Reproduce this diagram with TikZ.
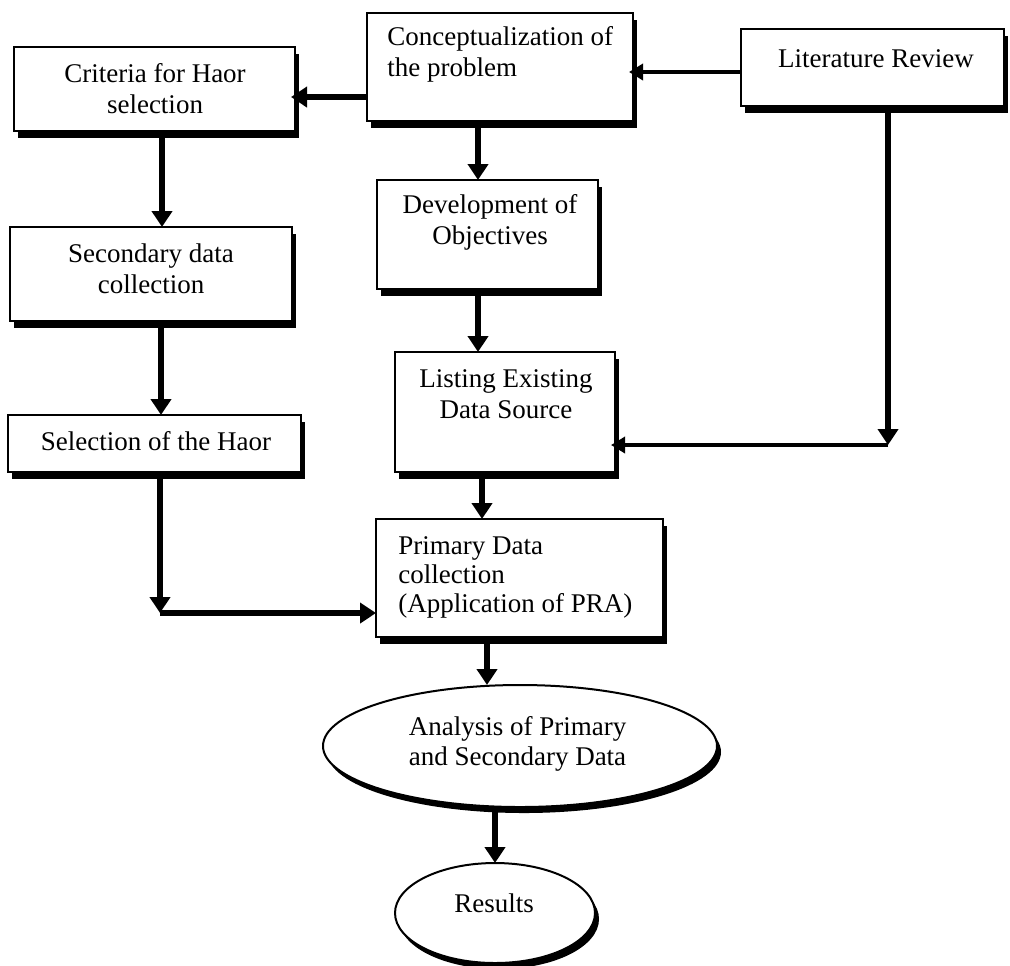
\documentclass[tikz,border=0pt]{standalone}
\usepackage{fontspec}
\setmainfont{Liberation Serif}
\usetikzlibrary{arrows.meta,shapes.geometric,shadows,calc}
\begin{document}
\begin{tikzpicture}[x=0.5pt,y=-0.5pt,
  box/.style={draw, line width=1pt, fill=white, inner sep=0pt, outer sep=0pt,
    general shadow={fill=black, shadow xshift=2pt, shadow yshift=-3.5pt}},
  oval/.style={ellipse, draw, line width=1pt, fill=white, inner sep=0pt, outer sep=0pt,
    general shadow={fill=black, shadow xshift=2pt, shadow yshift=-3pt}},
  txt/.style={font=\fontsize{13.5}{15.5}\selectfont, inner sep=0pt},
  arr/.style={line width=3pt, -{Triangle[width=10pt,length=8pt]}},
  thinarr/.style={line width=2pt, -{Triangle[width=8pt,length=7pt]}}]
\useasboundingbox (0,0) rectangle (1010,965);
% boxes
\node[box, minimum width=133pt, minimum height=54pt] (conc) at (500,67) {};
\node[box, minimum width=131.5pt, minimum height=38.5pt] (lit) at (872.5,67.5) {};
\node[box, minimum width=140.5pt, minimum height=42pt] (crit) at (154.5,89) {};
\node[box, minimum width=141pt, minimum height=47pt] (sec) at (151,274) {};
\node[box, minimum width=146.5pt, minimum height=28.5pt] (sel) at (154.5,443.5) {};
\node[box, minimum width=110.5pt, minimum height=54.5pt] (dev) at (487.5,234.5) {};
\node[box, minimum width=110pt, minimum height=60pt] (list) at (505,412) {};
\node[box, minimum width=143.5pt, minimum height=59pt] (prim) at (519.5,578) {};
\node[oval, minimum width=197pt, minimum height=61pt] (ana) at (520,746) {};
\node[oval, minimum width=100pt, minimum height=50pt] (res) at (495,913) {};
% texts
\node[txt, anchor=north west, align=left] (conc-t) at (387,26.5) {Conceptualization of\\the problem};
\node[txt, anchor=base] (lit-t) at (876,67) {Literature Review};
\node[txt, anchor=north, align=center] (crit-t) at (155,63.5) {Criteria for Haor\\selection};
\node[txt, anchor=north, align=center] (sec-t) at (151,243.5) {Secondary data\\collection};
\node[txt, anchor=base] (sel-t) at (156,450) {Selection of the Haor};
\node[txt, anchor=north, align=center] (dev-t) at (490,194.5) {Development of\\Objectives};
\node[txt, anchor=north, align=center] (list-t) at (506,369.5) {Listing Existing\\Data Source};
\node[txt, font=\fontsize{13.5}{14.5}\selectfont, anchor=north west, align=left] (prim-t) at (398,536.5) {Primary Data\\collection\\(Application of PRA)};
\node[txt, font=\fontsize{13.5}{15}\selectfont, anchor=north, align=center] (ana-t) at (517.5,716.5) {Analysis of Primary\\and Secondary Data};
\node[txt, anchor=base] (res-t) at (494,912) {Results};
% junctions
\coordinate (j1) at (160,613);
\coordinate (j2) at (888,445);
% connectors
\draw[thinarr, shorten >=-2pt] ($(lit.west)+(0,4.5)$) -- ($(conc.east)+(0,5)$);
\draw[arr, shorten >=-2pt] ($(conc.west)+(0,30)$) coordinate (c2) -- (c2 -| crit.east);
\draw[arr] ($(conc.south)+(-22,0)$) coordinate (c3) -- (c3 |- dev.north);
\draw[arr] ($(dev.south)+(-9.5,0)$) coordinate (c4) -- (c4 |- list.north);
\draw[arr] ($(list.south)+(-23,0)$) coordinate (c5) -- (c5 |- prim.north);
\draw[arr] ($(prim.south)+(-32.5,0)$) coordinate (c6) -- (c6 |- ana.north);
\draw[arr] (res.north |- ana.south) -- (res.north);
\draw[arr] ($(crit.south)+(7.5,0)$) coordinate (c8) -- (c8 |- sec.north);
\draw[arr] ($(sec.south)+(10,0)$) coordinate (c9) -- (c9 |- sel.north);
\draw[arr] (sel.south -| j1) -- (j1);
\draw[arr] (j1) -- (j1 -| prim.west);
\draw[arr] (lit.south -| j2) -- (j2);
\draw[thinarr, shorten >=-2pt] (j2) -- (j2 -| list.east);
\end{tikzpicture}
\end{document}
